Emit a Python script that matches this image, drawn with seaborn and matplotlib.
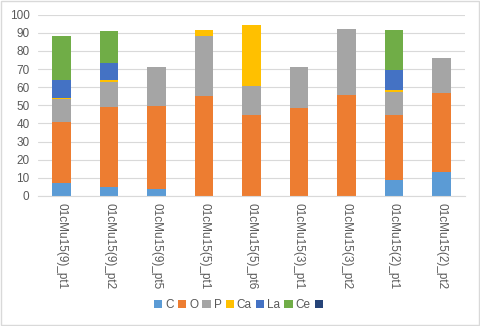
import matplotlib
matplotlib.use("Agg")
import matplotlib.pyplot as plt
from matplotlib.patches import Patch, Rectangle
import pandas as pd
import seaborn as sns

samples = ["01cMu15(9)_pt1", "01cMu15(9)_pt2", "01cMu15(9)_pt5", "01cMu15(5)_pt1",
           "01cMu15(5)_pt6", "01cMu15(3)_pt1", "01cMu15(3)_pt2", "01cMu15(2)_pt1",
           "01cMu15(2)_pt2"]
elements = ["C", "O", "P", "Ca", "La", "Ce", ""]
C = [7.0, 5.1, 4.0, 0.0, 0.0, 0.0, 0.0, 8.8, 13.4]
O = [34.0, 44.0, 45.6, 55.2, 44.7, 48.7, 55.7, 35.9, 43.6]
P = [12.3, 13.8, 21.5, 33.2, 16.0, 22.4, 36.4, 12.8, 19.3]
Ca = [0.9, 1.1, 0.0, 3.2, 33.6, 0.0, 0.0, 1.0, 0.0]
La = [9.8, 9.5, 0.0, 0.0, 0.0, 0.0, 0.0, 11.2, 0.0]
Ce = [24.4, 17.5, 0.0, 0.0, 0.0, 0.0, 0.0, 21.9, 0.0]
Blank = [0.0] * 9
series = [C, O, P, Ca, La, Ce, Blank]
colors = ["#5B9BD5", "#ED7D31", "#A5A5A5", "#FFC000", "#4472C4", "#70AD47", "#264478"]

rows = []
for el, vals in zip(elements, series):
    for s, v in zip(samples, vals):
        rows.append({"sample": s, "element": el, "value": v})
df = pd.DataFrame(rows)
df["sample"] = pd.Categorical(df["sample"], categories=samples, ordered=True)

sns.set_style("white")
plt.rcParams["font.family"] = ["Liberation Sans", "DejaVu Sans"]

fig = plt.figure(figsize=(4.8, 3.26), dpi=100)
ax = fig.add_axes([0.079, 0.399, 0.890, 0.556])

# histplot stacks the last hue level at the bottom, so reverse the order
pal = dict(zip(elements, colors))
sns.histplot(data=df, x="sample", weights="value", hue="element",
             hue_order=elements[::-1], palette=pal, multiple="stack",
             discrete=True, shrink=0.39, alpha=1, linewidth=0,
             legend=False, ax=ax)

ax.set_ylim(0, 100)
ax.set_xlim(-0.5, len(samples) - 0.5)
ax.set_yticks(range(0, 101, 10))
ax.set_xticks(range(len(samples)))
ax.set_xticklabels(samples, rotation=-90, va="top", ha="center")
ax.set_xlabel("")
ax.set_ylabel("")
ax.yaxis.grid(True, color="#D9D9D9", linewidth=0.8)
ax.set_axisbelow(True)
for side in ["top", "right", "left"]:
    ax.spines[side].set_visible(False)
ax.spines["bottom"].set_color("#D9D9D9")
ax.spines["bottom"].set_linewidth(0.8)
ax.tick_params(axis="both", length=0, colors="#595959", labelsize=8.5)
ax.tick_params(axis="x", pad=5)
ax.tick_params(axis="y", pad=6)

handles = [Patch(facecolor=c, edgecolor="none") for c in colors]
fig.legend(handles, elements, loc="center", bbox_to_anchor=(0.5, 0.064),
           ncol=7, frameon=False, fontsize=8.5, handlelength=0.7,
           handleheight=0.7, handletextpad=0.25, columnspacing=0.35,
           labelcolor="#595959")

fig.add_artist(Rectangle((0.002, 0.003), 0.995, 0.994, transform=fig.transFigure,
                         fill=False, edgecolor="#D9D9D9", linewidth=1))

fig.savefig("out.png", dpi=100)
